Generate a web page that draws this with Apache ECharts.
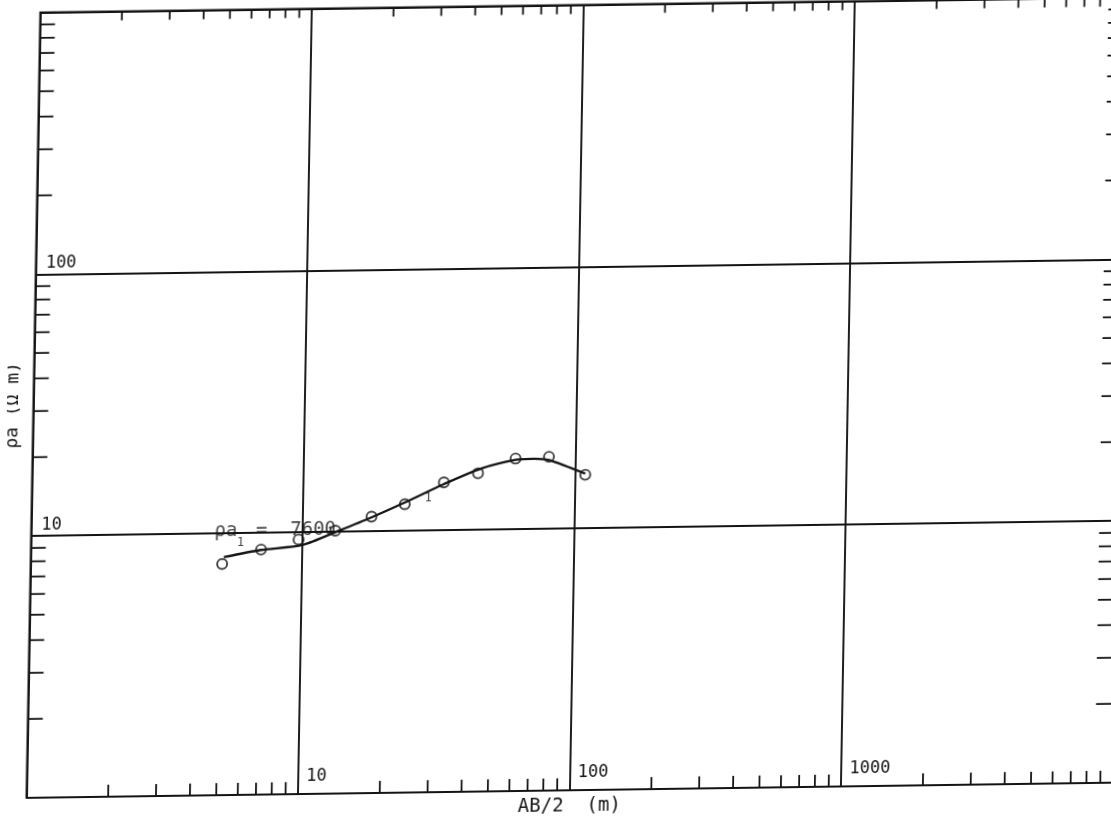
<!DOCTYPE html>
<html>
<head>
<meta charset="utf-8">
<script src="https://cdn.jsdelivr.net/npm/echarts@6/dist/echarts.min.js"></script>
<style>
html,body{margin:0;padding:0;overflow:hidden;background:#fff;width:1111px;height:825px;}
#chart{position:absolute;left:0;top:0;width:1140px;height:860px;
  transform-origin:26.4px 797.9px;transform:matrix(1,-0.014,-0.0176,1,0,0);}
</style>
</head>
<body>
<div id="chart"></div>
<script>
// ---- data ----
const abHalf = [5.08, 7.05, 9.68, 13.2, 17.9, 23.7, 32.9, 43.9, 60.2, 79.9, 109];   // AB/2 (m), observed
const rhoA   = [7.64, 8.63, 9.38, 10.1, 11.37, 12.64, 15.23, 16.44, 18.62, 18.84, 16.01]; // rho a (ohm m)
const modelAB  = [5.15, 7.05, 10.0, 13.6, 17.9, 23.7, 32.9, 45.1, 60.3, 70.8, 80.0, 109];
const modelRho = [8.11, 8.60, 8.93, 10.09, 11.30, 12.83, 15.0, 17.13, 18.41, 18.56, 18.30, 16.16];
const xTickLabels = ['10', '100', '1000'];
const yTickLabels = ['10', '100'];
const xMinorTicks = [2,3,4,5,6,7,8,9, 20,30,40,50,60,70,80,90, 200,300,400,500,600,700,800,900, 2000,3000,4000,5000,6000,7000,8000,9000];
const yMinorTicks = [2,3,4,5,6,7,8,9, 20,30,40,50,60,70,80,90, 200,300,400,500,600,700,800,900];
const noteTexts = ['{a|ρa}{s|1}{b| =  7600}', '1'];
const notePoints = [[4.73, 10.14], [28.9, 13.25]];
const xMin = 1, xMax = 10000, yMin = 1, yMax = 1000;

const INK = '#141414';
const MONO = '"DejaVu Sans Mono", "Liberation Mono", monospace';

const chart = echarts.init(document.getElementById('chart'), null, {renderer: 'canvas'});

const option = {
  animation: false,
  backgroundColor: '#ffffff',
  grid: {
    left: 26.4, top: 12.5, width: 1086.4, height: 785.4,
    show: true, borderColor: INK, borderWidth: 1.8, backgroundColor: 'transparent',
    containLabel: false, outerBoundsMode: 'none'
  },
  xAxis: {
    type: 'log', logBase: 10, min: xMin, max: xMax,
    name: 'AB/2  (m)', nameLocation: 'middle', nameGap: 7,
    nameTextStyle: {fontFamily: MONO, fontSize: 19, color: INK, verticalAlign: 'top'},
    axisLine: {show: false}, axisTick: {show: false},
    splitLine: {show: true, lineStyle: {color: INK, width: 1.9}},
    axisLabel: {
      inside: true, showMinLabel: false, showMaxLabel: false,
      formatter: v => xTickLabels.includes(String(v)) ? String(v) : '',
      align: 'left', verticalAlign: 'bottom', margin: 9, padding: [0, 0, 0, 8],
      fontFamily: MONO, fontSize: 17, color: INK
    }
  },
  yAxis: {
    type: 'log', logBase: 10, min: yMin, max: yMax,
    name: 'ρa (Ω m)', nameLocation: 'middle', nameRotate: 90, nameGap: 11,
    nameTextStyle: {fontFamily: MONO, fontSize: 18, color: INK},
    axisLine: {show: false}, axisTick: {show: false},
    splitLine: {show: true, lineStyle: {color: INK, width: 1.9}},
    axisLabel: {
      inside: true, showMinLabel: false, showMaxLabel: false,
      formatter: v => yTickLabels.includes(String(v)) ? String(v) : '',
      align: 'left', verticalAlign: 'bottom', margin: 10, padding: [0, 0, 2, 0],
      fontFamily: MONO, fontSize: 17, color: INK
    }
  },
  series: [
    {
      name: 'minor x ticks', type: 'custom', silent: true, z: 2,
      data: xMinorTicks.map(v => [v, yMin]),
      encode: {x: 0, y: 1},
      renderItem: (params, api) => {
        const v = api.value(0);
        const b = api.coord([v, yMin]);
        const t = api.coord([v, yMax]);
        return {type: 'group', children: [
          {type: 'line', shape: {x1: b[0], y1: b[1], x2: b[0], y2: b[1] - 12}, style: {stroke: INK, lineWidth: 1.8}},
          {type: 'line', shape: {x1: t[0], y1: t[1], x2: t[0], y2: t[1] + 9}, style: {stroke: INK, lineWidth: 1.8}}
        ]};
      }
    },
    {
      name: 'minor y ticks', type: 'custom', silent: true, z: 2,
      data: yMinorTicks.map(v => [xMin, v]),
      encode: {x: 0, y: 1},
      renderItem: (params, api) => {
        const v = api.value(1);
        const l = api.coord([xMin, v]);
        const r = api.coord([xMax, v]);
        return {type: 'group', children: [
          {type: 'line', shape: {x1: l[0], y1: l[1], x2: l[0] + 15, y2: l[1]}, style: {stroke: INK, lineWidth: 1.8}},
          {type: 'line', shape: {x1: r[0], y1: r[1], x2: r[0] - 18, y2: r[1]}, style: {stroke: INK, lineWidth: 1.8}}
        ]};
      }
    },
    {
      name: 'model', type: 'line', z: 3,
      data: modelAB.map((x, i) => [x, modelRho[i]]),
      showSymbol: false, smooth: 0.25,
      lineStyle: {color: INK, width: 2.3}
    },
    {
      name: 'observed', type: 'scatter', z: 4,
      data: abHalf.map((x, i) => [x, rhoA[i]]),
      symbol: 'circle', symbolSize: 10,
      itemStyle: {color: 'rgba(255,255,255,0)', borderColor: INK, borderWidth: 1.9}
    },
    {
      name: 'notes', type: 'scatter', z: 5, silent: true,
      symbol: 'circle', symbolSize: 0,
      data: notePoints.map((p, i) => ({value: p, label: {position: i === 0 ? 'right' : 'inside'}})),
      label: {
        show: true, distance: 0, color: INK,
        formatter: p => noteTexts[p.dataIndex],
        fontFamily: MONO, fontSize: 12,
        rich: {
          a: {fontFamily: MONO, fontSize: 19, lineHeight: 34, verticalAlign: 'middle', color: INK},
          s: {fontFamily: MONO, fontSize: 12, lineHeight: 12, verticalAlign: 'bottom', color: INK},
          b: {fontFamily: MONO, fontSize: 19, lineHeight: 34, verticalAlign: 'middle', color: INK}
        }
      }
    }
  ]
};
chart.setOption(option);
</script>
</body>
</html>
